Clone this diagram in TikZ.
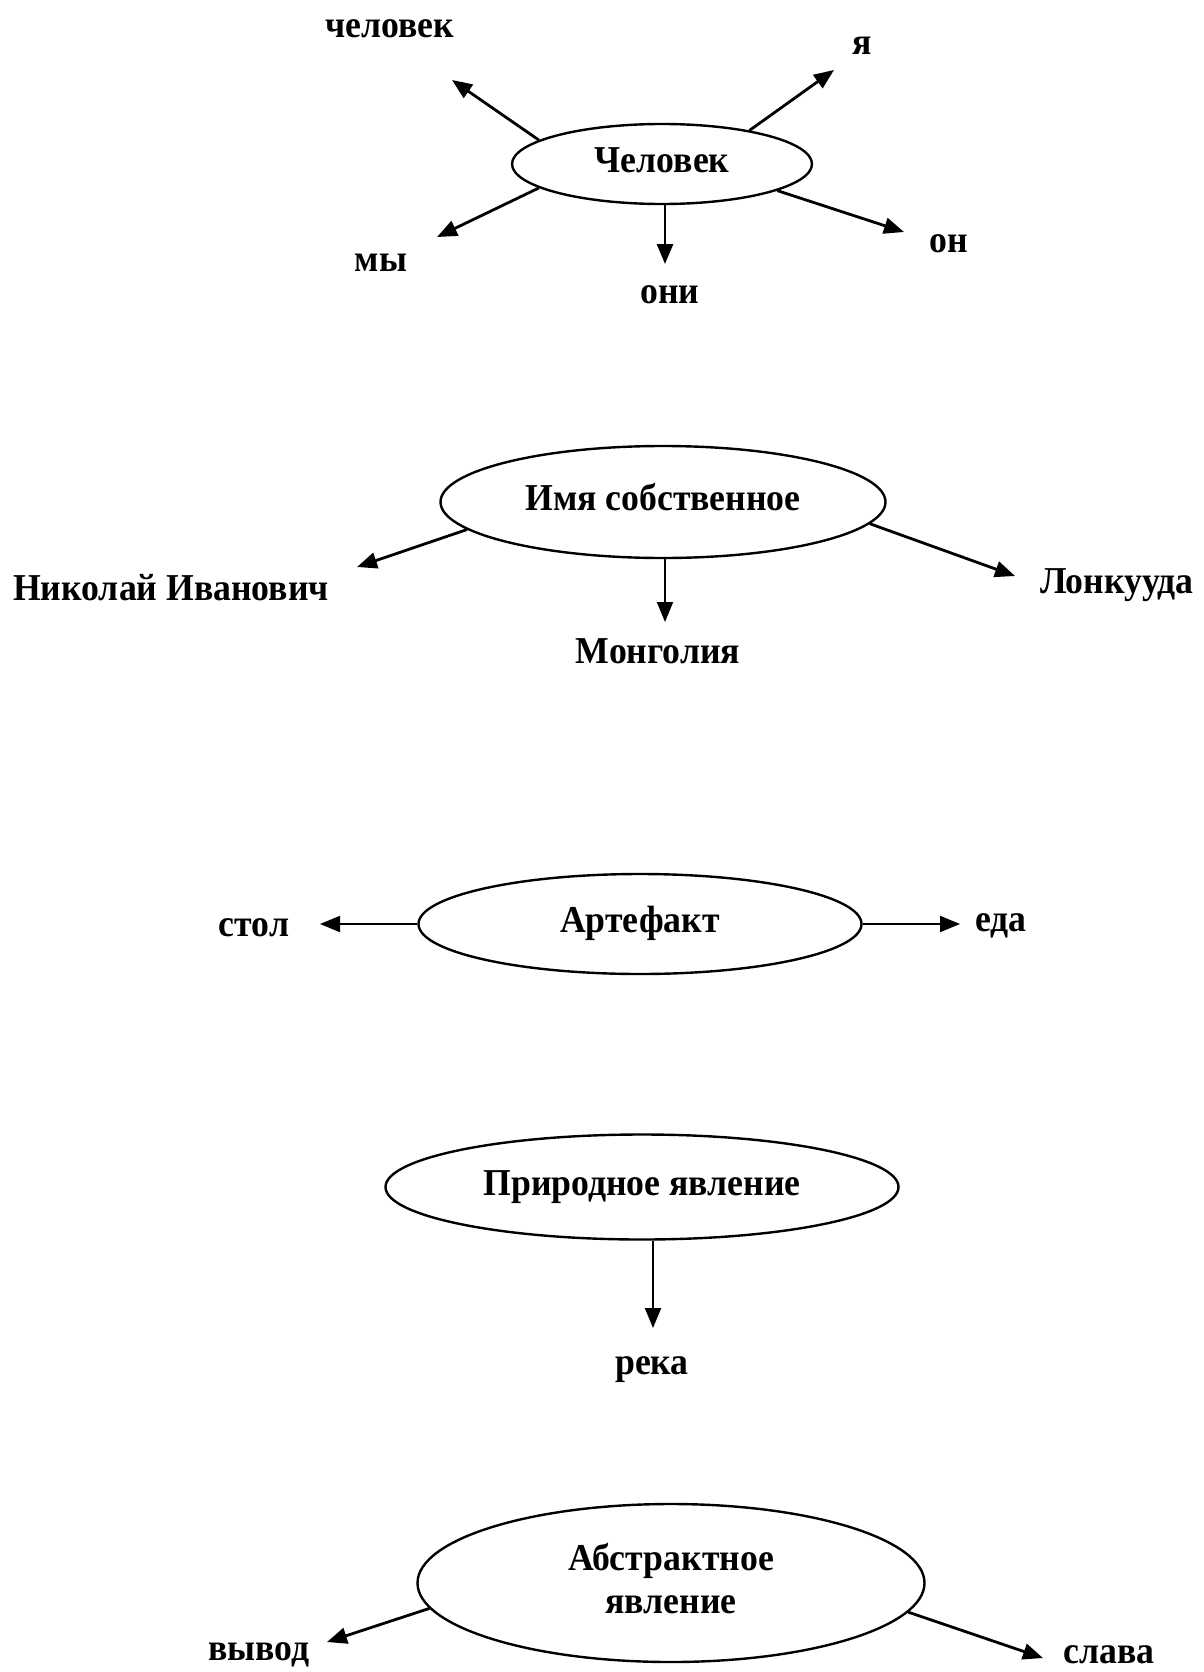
\documentclass[tikz,border=0pt]{standalone}
\usepackage{fontspec}
\setmainfont{Liberation Serif}[FakeStretch=0.94]
\usetikzlibrary{shapes.geometric,arrows.meta}

\begin{document}
\begin{tikzpicture}[
  x=1pt, y=-1pt,
  blob/.style={draw, ellipse, line width=2.4pt, inner sep=0pt,
               text height=26.6pt, text depth=9.5pt,
               font=\fontsize{38}{43}\selectfont\bfseries, align=center},
  word/.style={anchor=base, inner sep=0pt,
               font=\fontsize{38}{43}\selectfont\bfseries},
  arrow/.style={-{Triangle[length=20pt,width=16pt]}, line width=2.8pt}
]
  \useasboundingbox (0,0) rectangle (1203,1672);

  % Человек
  \node[blob, minimum width=300pt, minimum height=80pt] (hum) at (662,164) {Человек};
  \node[word] (chel) at (390,38) {человек};
  \node[word] (ya)   at (862,55) {я};
  \node[word] (my)   at (381,271) {мы};
  \node[word] (oni)  at (670,303) {они};
  \node[word] (on)   at (949,252) {он};
  \coordinate (tchel) at (452,80);
  \coordinate (tya)   at (834,70);
  \coordinate (tmy)   at (437,237);
  \coordinate (toni)  at (665,264);
  \coordinate (ton)   at (904,232);
  \draw[arrow] (hum.169) -- (tchel);
  \draw[arrow] (hum.21)  -- (tya);
  \draw[arrow] (hum.191) -- (tmy);
  \draw[arrow] (hum.south -| toni) -- (toni);
  \draw[arrow] (hum.347) -- (ton);

  % Имя собственное
  \node[blob, minimum width=445pt, minimum height=112pt] (name) at (663,502) {Имя собственное};
  \node[word] (nik)  at (171,600) {Николай Иванович};
  \node[word] (mong) at (658,663) {Монголия};
  \node[word] (lonk) at (1117,593) {Лонкууда};
  \coordinate (tnik)  at (357,567);
  \coordinate (tmong) at (665,622);
  \coordinate (tlonk) at (1015,576);
  \draw[arrow] (name.188) -- (tnik);
  \draw[arrow, line width=1.8pt] (name.south -| tmong) -- (tmong);
  \draw[arrow] (name.354) -- (tlonk);

  % Артефакт
  \node[blob, minimum width=443pt, minimum height=100pt] (art) at (640,924) {Артефакт};
  \node[word] (stol) at (254,936) {стол};
  \node[word] (eda)  at (1001,931) {еда};
  \coordinate (tstol) at (320,924);
  \coordinate (teda)  at (960,924);
  \draw[arrow, line width=2pt] (art.west) -- (tstol);
  \draw[arrow, line width=2pt] (art.east) -- (teda);

  % Природное явление
  \node[blob, minimum width=513pt, minimum height=105pt] (nat) at (642,1187) {Природное явление};
  \node[word] (reka) at (652,1374) {река};
  \coordinate (treka) at (653,1328);
  \draw[arrow, line width=2pt] (nat.south -| treka) -- (treka);

  % Абстрактное явление
  \node[blob, minimum width=507pt, minimum height=158pt,
        text height=69.6pt] (abs) at (671,1583) {Абстрактное\\явление};
  \node[word] (vyv)   at (259,1660) {вывод};
  \node[word] (slava) at (1109,1663) {слава};
  \coordinate (tvyv)   at (327,1642);
  \coordinate (tslava) at (1043,1658);
  \draw[arrow] (abs.186) -- (tvyv);
  \draw[arrow] (abs.353) -- (tslava);
\end{tikzpicture}
\end{document}
